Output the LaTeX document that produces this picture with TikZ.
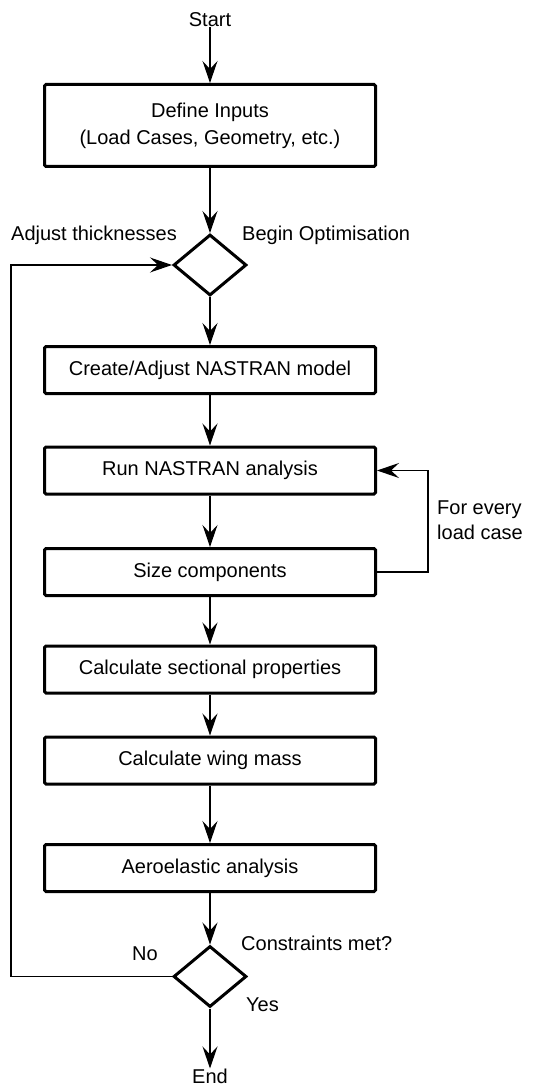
\documentclass[tikz,border=0pt]{standalone}
\usepackage{fontspec}
\setmainfont{Liberation Sans}
\usepackage{tikz}
\usetikzlibrary{positioning}
\usetikzlibrary{shapes,shapes.geometric,calc,arrows.meta}
\tikzset{
	x=1pt, y=1pt,
	block/.style = {rectangle, draw, line width=3pt, rounded corners=1.5pt,
		minimum width=331pt, minimum height=47pt, align=center,
		font=\fontsize{20}{27}\selectfont},
	decision/.style = {diamond, draw, line width=3pt, inner sep=0pt,
		minimum width=73pt, minimum height=61pt},
	txt/.style = {inner sep=0pt, align=left, font=\fontsize{20}{25}\selectfont},
	conn/.style = {line width=1.2pt, -{Stealth[length=22pt,width=15pt,inset=8pt]}},
	plain/.style = {line width=1.2pt},
}

\begin{document}
\begin{tikzpicture}
	\useasboundingbox (0,0) rectangle (556,-1086);
	\node at(210,-20) (start) [txt] {Start};
	\node at(210,-125.5) (define) [block, minimum height=82pt] {Define Inputs\\(Load Cases, Geometry, etc.)};
	\node at(210,-265) (begin) [decision] {};
	\node at(210,-370) (create) [block] {Create/Adjust NASTRAN model};
	\node at(210,-470.5) (run) [block] {Run NASTRAN analysis};
	\node at(210,-572) (size) [block] {Size components};
	\node at(210,-669.5) (section) [block] {Calculate sectional properties};
	\node at(210,-760.5) (mass) [block] {Calculate wing mass};
	\node at(210,-868) (aero) [block] {Aeroelastic analysis};
	\node at(210,-976.5) (check) [decision] {};
	\node at(210,-1076) (end) [txt] {End};
	% labels
	\node at(177,-235) (adjust) [txt, anchor=east] {Adjust thicknesses};
	\node at(242,-235) (optim) [txt, anchor=west] {Begin Optimisation};
	\node at(437,-520.5) (every) [txt, anchor=west] {For every\\load case};
	\node at(241,-943) (met) [txt, anchor=west] {Constraints met?};
	\node at(145,-954) (no) [txt] {No};
	\node at(246,-1005) (yes) [txt, anchor=west] {Yes};
	\coordinate (loopL) at (11,-976.5);
	\coordinate (loopR) at (428,-572);
	% flow
	\draw[conn] (start) -- (define);
	\draw[conn] (define) -- (begin);
	\draw[conn] (begin) -- (create);
	\draw[conn] (create) -- (run);
	\draw[conn] (run) -- (size);
	\draw[conn] (size) -- (section);
	\draw[conn] (section) -- (mass);
	\draw[conn] (mass) -- (aero);
	\draw[conn] (aero) -- (check);
	\draw[conn] (check) -- (end.north);
	\draw[conn] (size.east) -- (loopR) |- (run.east);
	\draw[conn] (check.west) -- (loopL) |- (begin.west);
\end{tikzpicture}
\end{document}
